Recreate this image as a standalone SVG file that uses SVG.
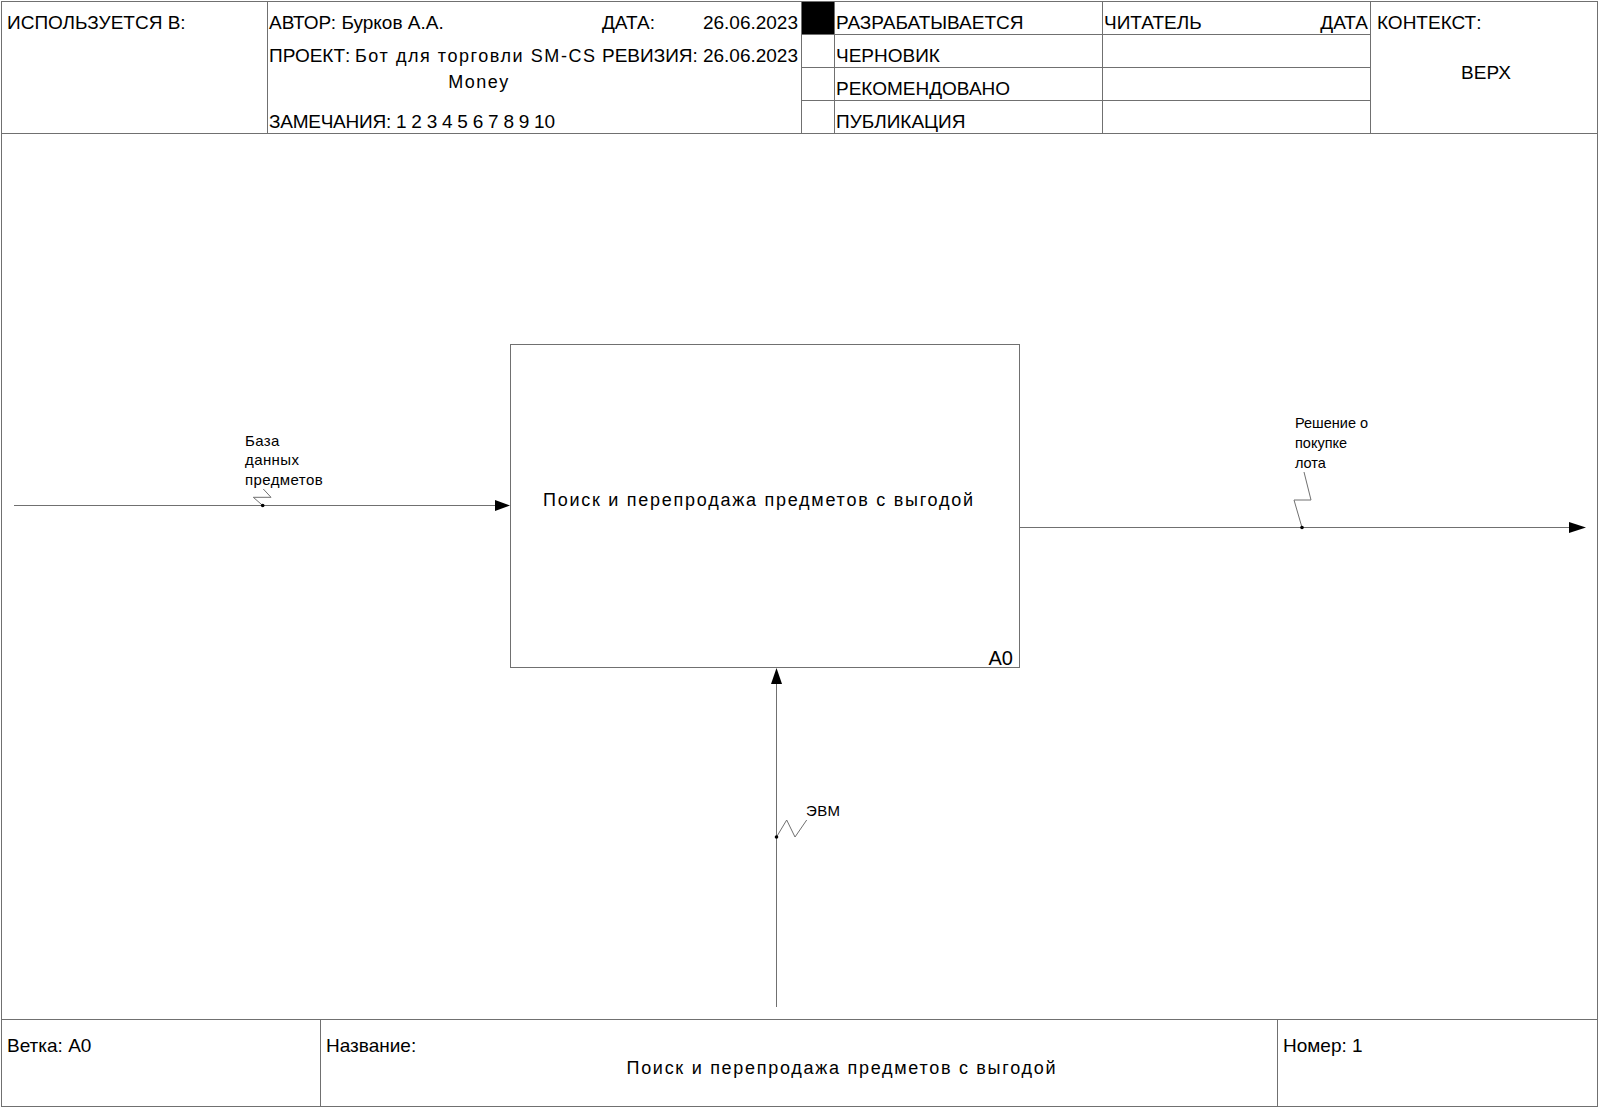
<svg xmlns="http://www.w3.org/2000/svg" width="1600" height="1108" viewBox="0 0 1600 1108">
<style>
  .ln{stroke:#707070;stroke-width:1;fill:none}
  .t{font-family:"Liberation Sans",Arial,sans-serif;font-size:19px;fill:#000}
  .tt{font-family:"Liberation Sans",Arial,sans-serif;font-size:18px;fill:#000}
  .lb{font-family:"Liberation Sans",Arial,sans-serif;font-size:15px;fill:#000;letter-spacing:0.4px}
  .lb2{font-family:"Liberation Sans",Arial,sans-serif;font-size:14.5px;fill:#000}
  .sq{stroke:#707070;stroke-width:1;fill:none}
  .ar{fill:#000;stroke:none}
  .dot{fill:#000}
</style>
<rect x="0" y="0" width="1600" height="1108" fill="#fff"/>
<g id="frame">
  <rect class="ln" x="1.5" y="1.5" width="1596" height="1105"/>
  <line class="ln" x1="1" y1="133.5" x2="1598" y2="133.5"/>
  <line class="ln" x1="267.5" y1="1" x2="267.5" y2="133.5"/>
  <line class="ln" x1="801.5" y1="1" x2="801.5" y2="133.5"/>
  <line class="ln" x1="834.5" y1="1" x2="834.5" y2="133.5"/>
  <line class="ln" x1="1102.5" y1="1" x2="1102.5" y2="133.5"/>
  <line class="ln" x1="1370.5" y1="1" x2="1370.5" y2="133.5"/>
  <line class="ln" x1="801" y1="34.5" x2="1370" y2="34.5"/>
  <line class="ln" x1="801" y1="67.5" x2="1370" y2="67.5"/>
  <line class="ln" x1="801" y1="100.5" x2="1370" y2="100.5"/>
  <rect x="802" y="2" width="32" height="32" fill="#000"/>
  <line class="ln" x1="1" y1="1019.5" x2="1598" y2="1019.5"/>
  <line class="ln" x1="320.5" y1="1019.5" x2="320.5" y2="1107"/>
  <line class="ln" x1="1277.5" y1="1019.5" x2="1277.5" y2="1107"/>
</g>
<g id="header-text">
  <text class="t" x="7" y="29">ИСПОЛЬЗУЕТСЯ В:</text>
  <text class="t" x="269" y="29">АВТОР: Бурков А.А.</text>
  <text class="t" x="602" y="29">ДАТА:</text>
  <text class="t" x="798" y="29" text-anchor="end">26.06.2023</text>
  <text class="t" x="269" y="62">ПРОЕКТ:</text>
  <text class="tt" x="355" y="62" textLength="240" lengthAdjust="spacing">Бот для торговли SM-CS</text>
  <text class="tt" x="479" y="88" text-anchor="middle" style="letter-spacing:1.5px">Money</text>
  <text class="t" x="602" y="62">РЕВИЗИЯ:</text>
  <text class="t" x="798" y="62" text-anchor="end">26.06.2023</text>
  <text class="t" x="269" y="128" textLength="286" lengthAdjust="spacing">ЗАМЕЧАНИЯ: 1 2 3 4 5 6 7 8 9 10</text>
  <text class="t" x="836" y="29">РАЗРАБАТЫВАЕТСЯ</text>
  <text class="t" x="836" y="62">ЧЕРНОВИК</text>
  <text class="t" x="836" y="95">РЕКОМЕНДОВАНО</text>
  <text class="t" x="836" y="128">ПУБЛИКАЦИЯ</text>
  <text class="t" x="1104" y="29">ЧИТАТЕЛЬ</text>
  <text class="t" x="1368" y="29" text-anchor="end">ДАТА</text>
  <text class="t" x="1377" y="29">КОНТЕКСТ:</text>
  <text class="t" x="1486" y="79" text-anchor="middle">ВЕРХ</text>
</g>
<g id="footer-text">
  <text class="t" x="7" y="1052">Ветка: A0</text>
  <text class="t" x="326" y="1052">Название:</text>
  <text class="tt" x="841" y="1074" text-anchor="middle" textLength="429" lengthAdjust="spacing">Поиск и перепродажа предметов с выгодой</text>
  <text class="t" x="1283" y="1052">Номер: 1</text>
</g>
<g id="node-A0">
  <rect class="ln" x="510.5" y="344.5" width="509" height="323"/>
  <text class="tt" x="758" y="506" text-anchor="middle" textLength="430" lengthAdjust="spacing">Поиск и перепродажа предметов с выгодой</text>
  <text class="t" x="1013" y="665" text-anchor="end" style="font-size:20px">A0</text>
</g>
<g id="connectors">
  <g id="input-db">
    <line class="ln" x1="14" y1="505.5" x2="496" y2="505.5"/>
    <polygon class="ar" points="510,505.5 495,500 495,511"/>
    <polyline class="sq" points="262.7,505.5 253.3,497.3 271,497.3 263.3,489"/>
    <circle class="dot" cx="262.7" cy="505.5" r="1.8"/>
    <text class="lb" x="245" y="446">База</text>
    <text class="lb" x="245" y="465">данных</text>
    <text class="lb" x="245" y="485">предметов</text>
  </g>
  <g id="output-decision">
    <line class="ln" x1="1019" y1="527.5" x2="1570" y2="527.5"/>
    <polygon class="ar" points="1586,527.5 1569,522 1569,533"/>
    <polyline class="sq" points="1302,527.5 1294,500 1311,500 1304,472"/>
    <circle class="dot" cx="1302" cy="527.5" r="1.8"/>
    <text class="lb2" x="1295" y="428">Решение о</text>
    <text class="lb2" x="1295" y="448">покупке</text>
    <text class="lb2" x="1295" y="468">лота</text>
  </g>
  <g id="mechanism-evm">
    <line class="ln" x1="776.5" y1="1007" x2="776.5" y2="682"/>
    <polygon class="ar" points="776.5,668 771,684 782,684"/>
    <polyline class="sq" points="776.5,837 786.7,820 795,837 806.7,820"/>
    <circle class="dot" cx="776.5" cy="837" r="1.8"/>
    <text class="lb" x="806" y="816">ЭВМ</text>
  </g>
</g>
</svg>
